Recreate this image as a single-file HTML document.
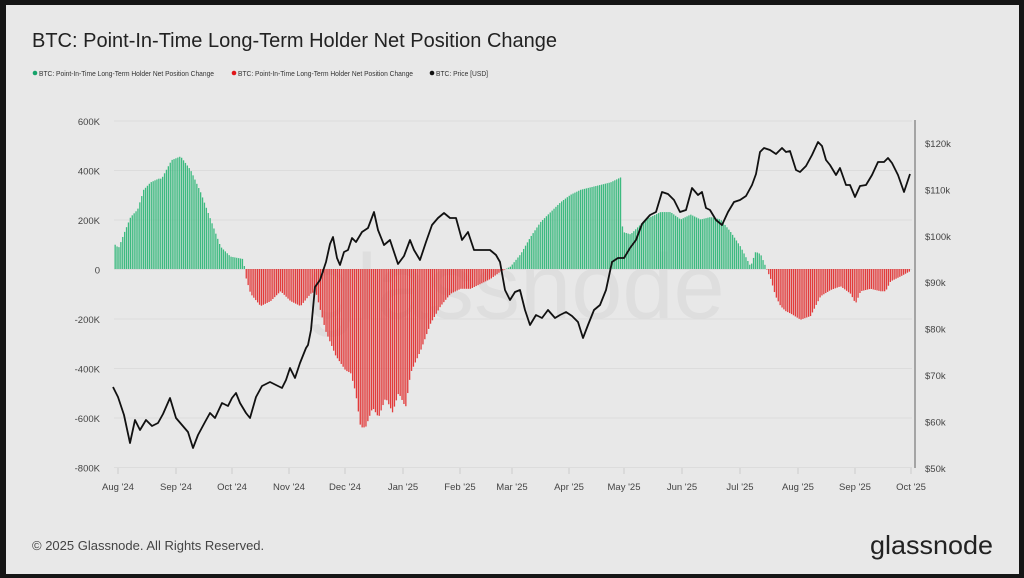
<!DOCTYPE html><html><head><meta charset="utf-8"><style>
body{margin:0;background:#151515;width:1024px;height:578px;overflow:hidden;font-family:"Liberation Sans",sans-serif}
#card{position:absolute;left:6px;top:5px;width:1013px;height:569px;background:#e8e8e8}
</style></head><body><div id="card"></div>
<svg id="s" width="1024" height="578" style="position:absolute;left:0;top:0" font-family="Liberation Sans, sans-serif">
<text x="32" y="47" font-size="20" fill="#222">BTC: Point-In-Time Long-Term Holder Net Position Change</text>
<g font-size="7" fill="#333">
<circle cx="35" cy="73" r="2.3" fill="#16a36a"/><text x="39" y="76" textLength="175" lengthAdjust="spacingAndGlyphs">BTC: Point-In-Time Long-Term Holder Net Position Change</text>
<circle cx="234" cy="73" r="2.3" fill="#e0161a"/><text x="238" y="76" textLength="175" lengthAdjust="spacingAndGlyphs">BTC: Point-In-Time Long-Term Holder Net Position Change</text>
<circle cx="432" cy="73" r="2.3" fill="#111"/><text x="436" y="76" textLength="52" lengthAdjust="spacingAndGlyphs">BTC: Price [USD]</text></g>
<text x="515" y="318" font-size="92" fill="#000" fill-opacity="0.045" text-anchor="middle">glassnode</text>
<g id="grid"></g><g id="bars"></g>
<line x1="915" y1="120" x2="915" y2="468" stroke="#777" stroke-width="1.2"/>
<polyline id="pl" fill="none" stroke="#111" stroke-width="1.8" stroke-linejoin="round"/>
<text x="32" y="550" font-size="13" fill="#444">© 2025 Glassnode. All Rights Reserved.</text>
<text x="993" y="554" font-size="26" fill="#222" text-anchor="end" textLength="123" lengthAdjust="spacingAndGlyphs">glassnode</text>
</svg>
<script>
var NS="http://www.w3.org/2000/svg",g=document.getElementById('grid'),b=document.getElementById('bars');
function el(t,a,p,tx){var e=document.createElementNS(NS,t);for(var k in a)e.setAttribute(k,a[k]);if(tx)e.textContent=tx;p.appendChild(e);return e;}
var L=["600K","400K","200K","0","-200K","-400K","-600K","-800K"];
for(var i=0;i<8;i++){var y=121+i*49.5;el('line',{x1:114,x2:912,y1:y,y2:y,stroke:'#dcdcdc','stroke-width':1},g);el('text',{x:100,y:y+4,'font-size':9.5,fill:'#444','text-anchor':'end'},g,L[i]);}
var R=["$120k","$110k","$100k","$90k","$80k","$70k","$60k","$50k"];
for(var i=0;i<8;i++){el('text',{x:925,y:143+i*46.4+4,'font-size':9.5,fill:'#444'},g,R[i]);}
var X=[[118,"Aug '24"],[176,"Sep '24"],[232,"Oct '24"],[289,"Nov '24"],[345,"Dec '24"],[403,"Jan '25"],[460,"Feb '25"],[512,"Mar '25"],[569,"Apr '25"],[624,"May '25"],[682,"Jun '25"],[740,"Jul '25"],[798,"Aug '25"],[855,"Sep '25"],[911,"Oct '25"]];
X.forEach(function(a){el('line',{x1:a[0],x2:a[0],y1:468,y2:474,stroke:'#ccc'},g);el('text',{x:a[0],y:490,'font-size':9.5,fill:'#444','text-anchor':'middle'},g,a[1]);});
var K=[114,100,118,85,124,150,130,210,137,240,143,320,150,350,158,365,161,365,171,440,180,455,190,400,200,310,210,200,220,90,230,50,243,40,244,0,245,-30,250,-100,260,-150,270,-130,280,-90,290,-130,300,-150,310,-100,315,-90,325,-250,335,-350,345,-410,350,-420,355,-500,360,-640,365,-640,372,-560,378,-600,385,-520,392,-580,398,-500,405,-560,410,-420,420,-330,430,-220,440,-150,450,-100,460,-80,470,-80,480,-60,490,-40,500,-10,505,0,510,10,520,60,530,130,540,190,550,230,560,270,570,300,580,320,590,330,600,340,610,350,620,370,622,150,630,140,645,200,660,230,670,230,680,200,690,220,700,200,710,210,720,200,730,150,740,90,745,50,750,10,755,70,760,60,766,0,770,-40,775,-110,780,-150,785,-170,790,-180,800,-205,810,-190,815,-150,820,-110,830,-85,840,-70,850,-100,855,-140,860,-90,870,-80,880,-90,885,-90,890,-50,900,-30,909,-10];
function val(x){for(var i=0;i<K.length-2;i+=2){if(x>=K[i]&&x<=K[i+2]){var t=(x-K[i])/(K[i+2]-K[i]||1);return K[i+1]+t*(K[i+3]-K[i+1]);}}return 0;}
for(var x=114.5;x<=909;x+=1.9){var v=val(x),h=v*0.2475;if(Math.abs(h)<0.3)continue;el('rect',{x:x,y:h>0?269-h:269,width:1.3,height:Math.abs(h),fill:v>0?'#3dba80':'#e23b3b'},b);}
var P="113,387 118,397 124,415 130,443 135,420 140,430 146,420 152,426 158,423 163,414 170,398 176,418 182,425 188,432 193,448 198,435 205,422 210,413 215,418 222,403 228,406 232,398 236,393 240,403 246,413 250,418 256,397 262,386 270,382 276,385 282,388 286,380 290,368 295,378 300,363 306,348 308,345 311,330 315,287 320,280 326,262 330,244 333,237 337,258 340,265 344,252 348,250 352,238 356,242 362,232 368,228 374,212 378,230 384,245 390,240 398,264 404,256 410,240 414,250 420,260 426,242 432,225 438,218 444,213 450,218 456,218 462,240 468,232 474,250 480,250 490,250 496,255 500,262 505,290 510,300 515,292 520,290 525,310 530,325 536,315 542,318 548,310 555,318 560,315 566,312 572,316 578,322 583,338 588,325 594,310 600,305 606,290 612,262 618,258 624,258 630,248 636,240 642,224 650,215 656,212 662,192 668,194 674,200 680,212 686,210 692,188 698,195 702,192 706,208 710,210 716,220 722,225 728,212 734,202 740,200 746,196 752,185 756,174 760,152 764,148 770,150 776,154 782,148 786,152 790,151 796,170 800,172 806,166 812,155 818,142 822,146 826,160 830,165 836,175 840,168 846,185 850,185 855,197 860,186 866,185 872,175 878,162 884,162 888,158 892,163 898,175 904,192 908,180 910,174";
document.getElementById('pl').setAttribute('points',P);
</script></body></html>
